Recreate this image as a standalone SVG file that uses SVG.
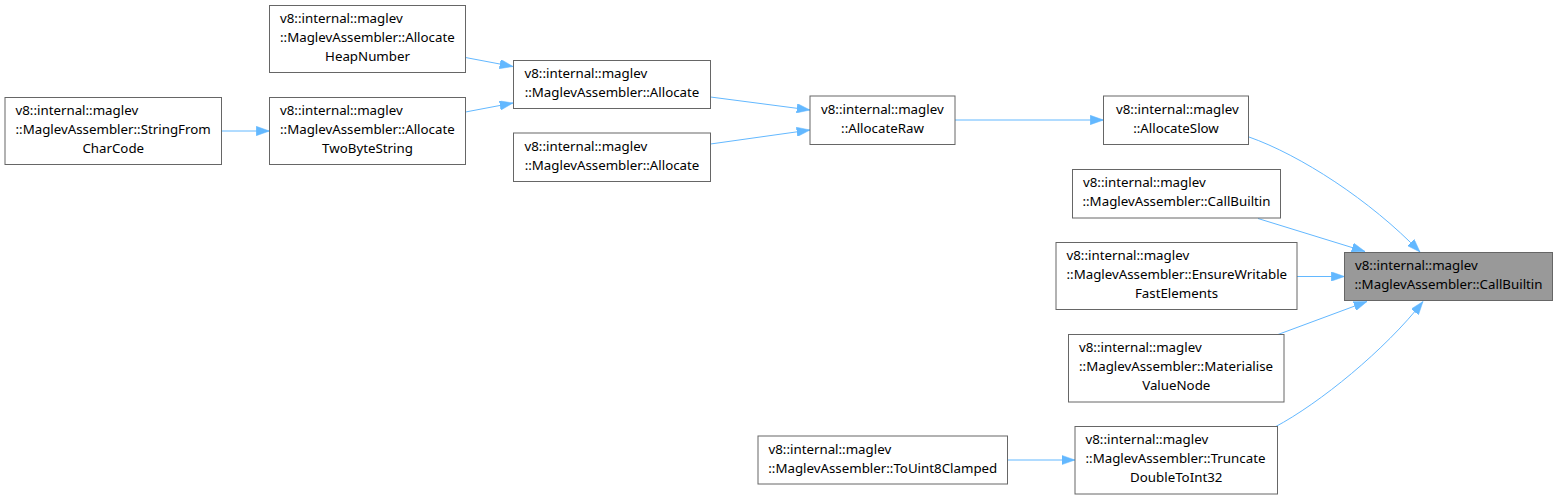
<svg xmlns="http://www.w3.org/2000/svg" width="1558" height="500" viewBox="0 0 1558 500">
<style>
.box{fill:#ffffff;stroke:#666666;stroke-width:1}
.tgt{fill:#999999;stroke:#666666;stroke-width:1}
text{font-family:"Noto Sans","DejaVu Sans",sans-serif;font-size:13.3px;fill:#000000}
.c{text-anchor:middle}
.edge{fill:none;stroke:#63b8ff;stroke-width:1;marker-end:url(#ah)}
</style>
<defs>
<marker id="ah" markerUnits="userSpaceOnUse" viewBox="0 0 13.3 9.4" refX="13.3" refY="4.7" markerWidth="13.3" markerHeight="9.4" orient="auto">
<path d="M0,0 L13.3,4.7 L0,9.4 z" fill="#63b8ff" stroke="#63b8ff" stroke-width="0.5"/>
</marker>
</defs>
<rect width="1558" height="500" fill="#ffffff"/>
<g id="connectors">
<path class="edge" d="M221.5,131 L269.5,131"/>
<path class="edge" d="M465.5,57.5 L513,66.5"/>
<path class="edge" d="M465.5,112 L513,103"/>
<path class="edge" d="M710.5,97 L810,110"/>
<path class="edge" d="M710.5,144 L810,130"/>
<path class="edge" d="M955,120 L1103.5,120"/>
<path class="edge" d="M1249,137 C1300,155 1370,200 1420,252"/>
<path class="edge" d="M1258,218.5 L1365,251.5"/>
<path class="edge" d="M1297,276.5 L1344.5,276.5"/>
<path class="edge" d="M1278,334.5 L1367,301.5"/>
<path class="edge" d="M1275,427 C1320,403 1385,350 1423,301.5"/>
<path class="edge" d="M1007.5,460 L1075,460"/>
</g>
<g id="n1"><rect class="box" x="269.5" y="5.5" width="196" height="67"/>
<text x="280" y="23">v8::internal::maglev</text><text x="280" y="42">::MaglevAssembler::Allocate</text><text class="c" x="367.5" y="61">HeapNumber</text></g>
<g id="n2"><rect class="box" x="269.5" y="97.5" width="196" height="67"/>
<text x="280" y="115">v8::internal::maglev</text><text x="280" y="134">::MaglevAssembler::Allocate</text><text class="c" x="367.5" y="153">TwoByteString</text></g>
<g id="n3"><rect class="box" x="5" y="97.5" width="216.5" height="67"/>
<text x="15.5" y="115">v8::internal::maglev</text><text x="15.5" y="134">::MaglevAssembler::StringFrom</text><text class="c" x="113.25" y="153">CharCode</text></g>
<g id="n4"><rect class="box" x="513.5" y="60.5" width="197" height="48"/>
<text x="524.5" y="78">v8::internal::maglev</text><text class="c" x="612" y="97">::MaglevAssembler::Allocate</text></g>
<g id="n5"><rect class="box" x="513.5" y="133" width="197" height="48.5"/>
<text x="524.5" y="150.5">v8::internal::maglev</text><text class="c" x="612" y="169.5">::MaglevAssembler::Allocate</text></g>
<g id="n6"><rect class="box" x="810" y="96" width="145" height="48.5"/>
<text x="821" y="113.5">v8::internal::maglev</text><text class="c" x="882.5" y="132.5">::AllocateRaw</text></g>
<g id="n7"><rect class="box" x="1103.5" y="96" width="145" height="48.5"/>
<text x="1116" y="113.5">v8::internal::maglev</text><text class="c" x="1176" y="132.5">::AllocateSlow</text></g>
<g id="n8"><rect class="tgt" x="1344.5" y="252.5" width="208" height="48"/>
<text x="1355" y="270">v8::internal::maglev</text><text class="c" x="1448.5" y="289">::MaglevAssembler::CallBuiltin</text></g>
<g id="n9"><rect class="box" x="1072.5" y="169.5" width="208" height="48.5"/>
<text x="1083" y="187">v8::internal::maglev</text><text class="c" x="1176.5" y="206">::MaglevAssembler::CallBuiltin</text></g>
<g id="n10"><rect class="box" x="1056" y="242.5" width="241" height="67"/>
<text x="1066.5" y="260">v8::internal::maglev</text><text x="1066.5" y="279">::MaglevAssembler::EnsureWritable</text><text class="c" x="1176.5" y="298">FastElements</text></g>
<g id="n11"><rect class="box" x="1068.5" y="334.5" width="215.5" height="67.5"/>
<text x="1079" y="352">v8::internal::maglev</text><text x="1079" y="371">::MaglevAssembler::Materialise</text><text class="c" x="1176.25" y="390">ValueNode</text></g>
<g id="n12"><rect class="box" x="1075" y="426.5" width="202.5" height="67.5"/>
<text x="1085.5" y="444">v8::internal::maglev</text><text x="1085.5" y="463">::MaglevAssembler::Truncate</text><text class="c" x="1176.25" y="482">DoubleToInt32</text></g>
<g id="n13"><rect class="box" x="758" y="436" width="249.5" height="48"/>
<text x="768.5" y="453.5">v8::internal::maglev</text><text class="c" x="882.75" y="472.5">::MaglevAssembler::ToUint8Clamped</text></g>
</svg>
